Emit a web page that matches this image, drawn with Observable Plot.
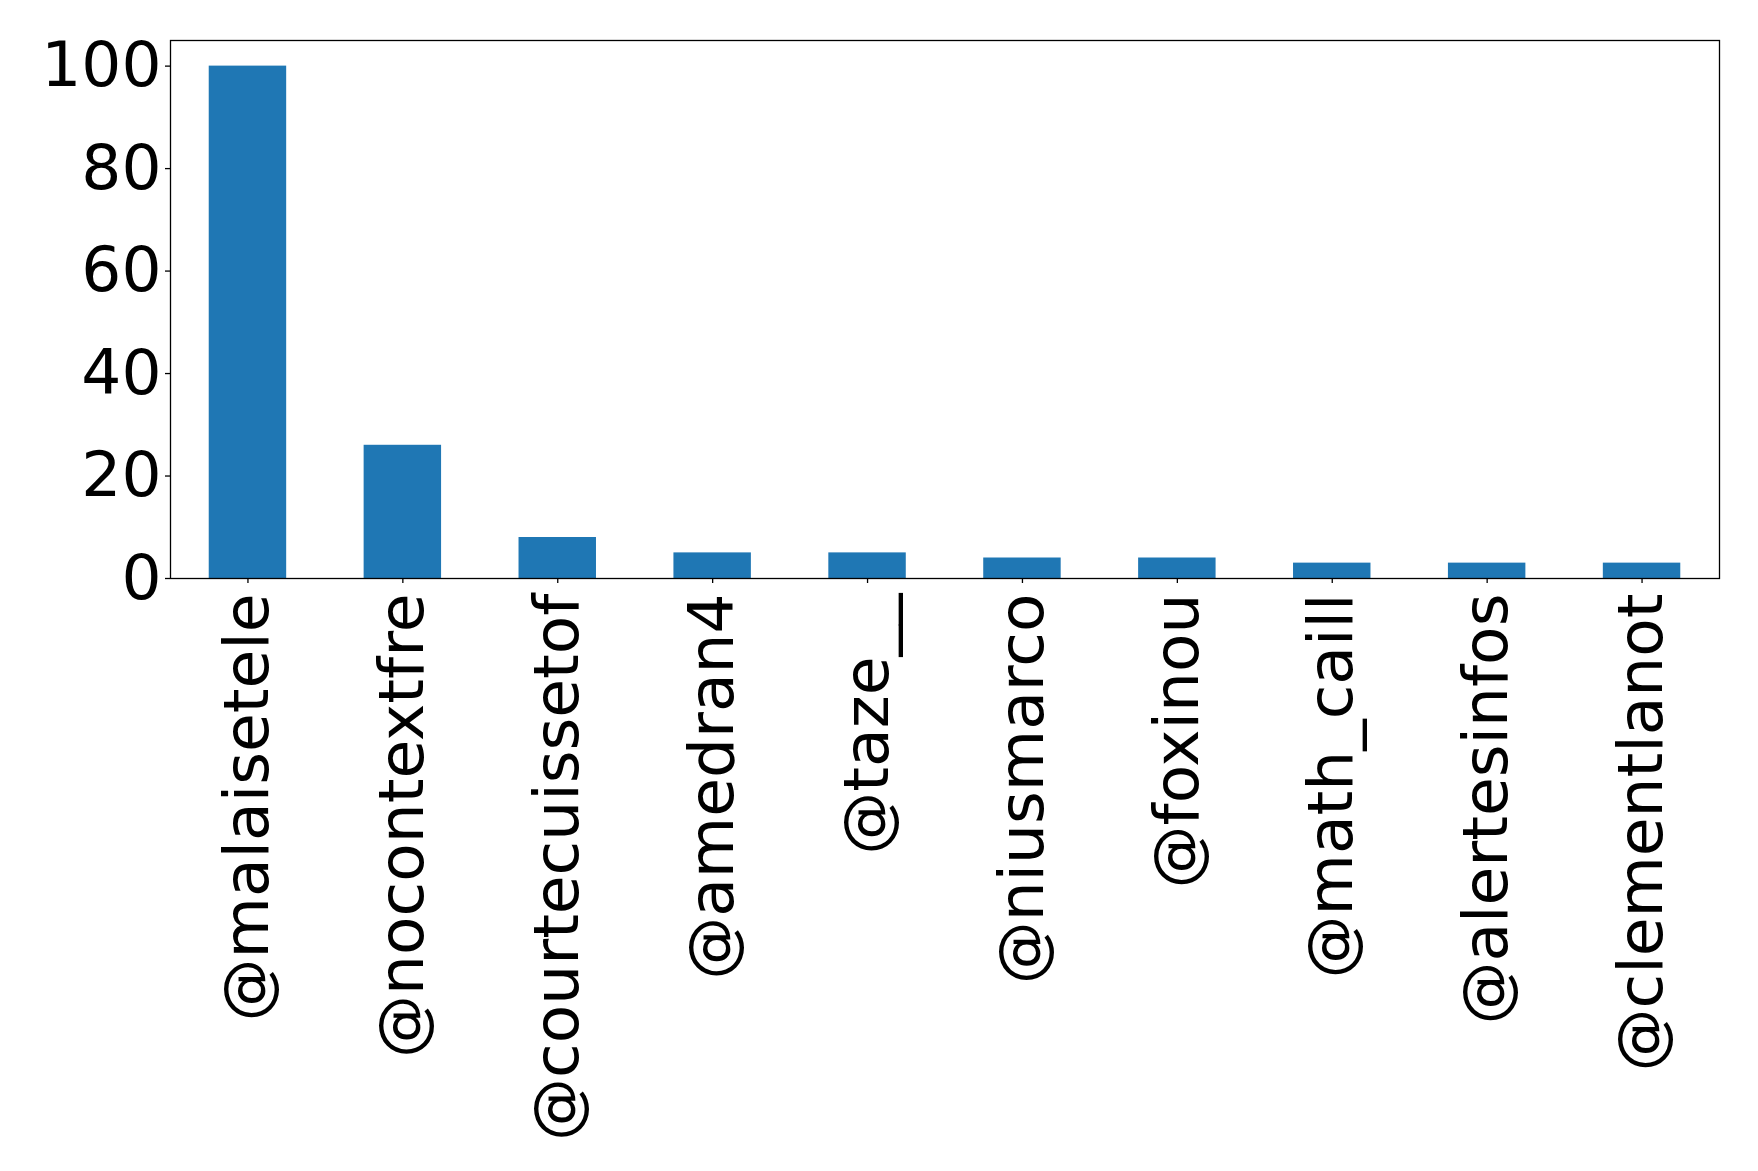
<!DOCTYPE html>
<html>
<head>
<meta charset="utf-8">
<script src="https://cdn.jsdelivr.net/npm/d3@7"></script>
<script src="https://cdn.jsdelivr.net/npm/@observablehq/plot@0.6"></script>
<style>
  html, body { margin: 0; padding: 0; background: #fff; }
  svg { display: block; }
</style>
</head>
<body>
<div id="chart"></div>
<script>
const accounts = ["@malaisetele", "@nocontextfre", "@courtecuissetof", "@amedran4", "@taze__", "@niusmarco", "@foxinou", "@math_caill", "@alertesinfos", "@clementlanot"];
const counts = [100, 26, 8, 5, 5, 4, 4, 3, 3, 3];
const yTicks = [0, 20, 40, 60, 80, 100];

const data = accounts.map((a, i) => ({account: a, count: counts[i]}));

const chart = Plot.plot({
  width: 1758,
  height: 1171,
  marginLeft: 170,
  marginRight: 39,
  marginTop: 40,
  marginBottom: 593,
  style: {fontFamily: "DejaVu Sans", background: "#fff", color: "#000"},
  x: {domain: accounts, paddingInner: 0.5, paddingOuter: 0.25, round: false, label: null},
  y: {domain: [0, 105], label: null},
  marks: [
    Plot.barY(data, {x: "account", y: "count", fill: "#1f77b4"}),
    Plot.frame({stroke: "#000", strokeWidth: 1.3}),
    Plot.axisY({ticks: yTicks, tickSize: 5, tickPadding: 4, fontSize: 63, label: null, stroke: "#000", strokeWidth: 1.3}),
    Plot.axisX({tickSize: 5, tickPadding: 10, tickRotate: -90, fontSize: 63, label: null, stroke: "#000", strokeWidth: 1.3})
  ]
});
document.getElementById("chart").appendChild(chart);
</script>
</body>
</html>
